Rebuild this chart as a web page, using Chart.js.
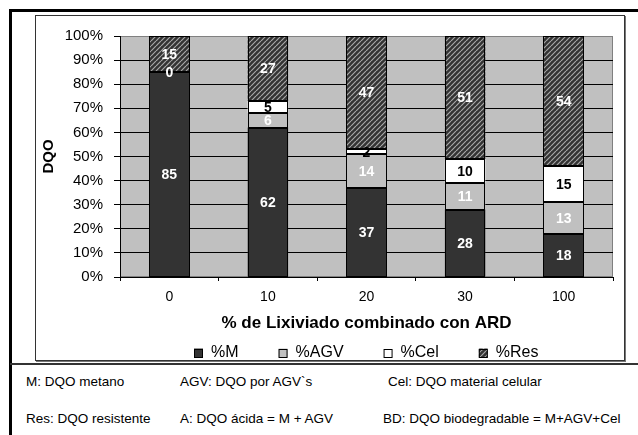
<!DOCTYPE html>
<html>
<head>
<meta charset="utf-8">
<script src="https://cdn.jsdelivr.net/npm/chart.js@4"></script>
<style>
  body { margin: 0; background: #fff; font-family: Arial, "Liberation Sans", sans-serif; }
  #page { position: relative; width: 638px; height: 435px; overflow: hidden; }
  #outer { position: absolute; left: 9px; top: 9px; width: 629px; height: 426px;
           border-top: 3px solid #000; border-left: 3px solid #000; box-sizing: border-box; }
  #chartBox { position: absolute; left: 35px; top: 15px; width: 590px; height: 346px;
              border: 1px solid #333; box-sizing: border-box; box-shadow: 1px 1px 0 #777; }
  #chartBox canvas { position: absolute; left: 0; top: 0; }
  #sep { position: absolute; left: 10px; top: 363px; width: 628px; height: 2px; background: #333; }
  .note { position: absolute; font-size: 13.5px; line-height: 15px; color: #000; white-space: nowrap; }
</style>
</head>
<body>
<div id="page">
  <div id="outer"></div>
  <div id="chartBox"><canvas id="chart" width="588" height="344"></canvas></div>
  <div id="sep"></div>
  <div class="note" style="left:26px; top:374px;">M: DQO metano</div>
  <div class="note" style="left:180px; top:374px;">AGV: DQO por AGV`s</div>
  <div class="note" style="left:388px; top:374px;">Cel: DQO material celular</div>
  <div class="note" style="left:26px; top:411px;">Res: DQO resistente</div>
  <div class="note" style="left:180px; top:411px;">A: DQO ácida = M + AGV</div>
  <div class="note" style="left:383px; top:411px;">BD: DQO biodegradable = M+AGV+Cel</div>
</div>
<script>
// Data
const categories = ["0", "10", "20", "30", "100"];
const mValues = [85, 62, 37, 28, 18];
const agvValues = [0, 6, 14, 11, 13];
const celValues = [null, 5, 2, 10, 15];
const resValues = [15, 27, 47, 51, 54];
const seriesNames = ["%M", "%AGV", "%Cel", "%Res"];

Chart.defaults.font.family = "Arial";
Chart.defaults.color = "#000";

const chartElement = document.getElementById("chart");

// Diagonal hatch used for %Res
function makeHatch() {
    const size = 5;
    const tile = document.createElement("canvas");
    tile.width = size;
    tile.height = size;
    const g = tile.getContext("2d");
    g.fillStyle = "#333";
    g.fillRect(0, 0, size, size);
    g.strokeStyle = "#a8a8a8";
    g.lineWidth = 1.2;
    g.beginPath();
    for (const k of [-size, 0, size]) {
        g.moveTo(k, size);
        g.lineTo(k + size, 0);
    }
    g.stroke();
    return chartElement.getContext("2d").createPattern(tile, "repeat");
}

// Gray plot area behind the grid
const plotBackground = {
    id: "plotBackground",
    beforeDraw(chart) {
        const { ctx, chartArea: a } = chart;
        ctx.save();
        ctx.fillStyle = "#c0c0c0";
        ctx.fillRect(a.left, a.top, a.width, a.height);
        ctx.strokeStyle = "#808080";
        ctx.lineWidth = 1;
        ctx.strokeRect(a.left + 0.5, a.top + 0.5, a.width - 1, a.height - 1);
        ctx.restore();
    },
};

// Crisp black outline around every segment
const barOutlines = {
    id: "barOutlines",
    afterDatasetsDraw(chart) {
        const ctx = chart.ctx;
        ctx.save();
        ctx.strokeStyle = "#000";
        ctx.lineWidth = 1;
        chart.data.datasets.forEach((ds, i) => {
            chart.getDatasetMeta(i).data.forEach((bar, j) => {
                if (!ds.data[j]) return;
                const { x, y, base, width } = bar.getProps(["x", "y", "base", "width"], true);
                const l = Math.round(x - width / 2) + 0.5;
                const r = Math.round(x + width / 2) - 0.5;
                const t = Math.round(y) + 0.5;
                const b = Math.round(base) - 0.5;
                ctx.strokeRect(l, t, r - l, b - t);
            });
        });
        ctx.restore();
    },
};

// Values written in the middle of each segment
const barLabels = {
    id: "barLabels",
    afterDatasetsDraw(chart) {
        const ctx = chart.ctx;
        ctx.save();
        ctx.font = "bold 14px Arial";
        ctx.textAlign = "center";
        ctx.textBaseline = "middle";
        chart.data.datasets.forEach((ds, i) => {
            chart.getDatasetMeta(i).data.forEach((bar, j) => {
                const v = ds.data[j];
                if (v === null) return;
                ctx.fillStyle = ds.labelColor;
                ctx.fillText(String(v), bar.x, (bar.y + bar.base) / 2 + 1);
            });
        });
        ctx.restore();
    },
};

// Legend row under the axis title, centred on the plot area
const bottomLegend = {
    id: "bottomLegend",
    afterDraw(chart) {
        const { ctx, chartArea: a } = chart;
        const box = 9, gap = 8, space = 40;
        ctx.save();
        ctx.font = "16px Arial";
        ctx.textBaseline = "middle";
        const items = chart.data.datasets.map((ds) => ({ ds, w: box + gap + ctx.measureText(ds.label).width }));
        const total = items.reduce((s, it) => s + it.w, 0) + space * (items.length - 1);
        let x = Math.round((a.left + a.right) / 2 - total / 2);
        const y = a.bottom + 76;
        items.forEach(({ ds, w }) => {
            ctx.fillStyle = ds.backgroundColor;
            ctx.fillRect(x, y - box / 2, box, box);
            ctx.strokeStyle = "#000";
            ctx.lineWidth = 1;
            ctx.strokeRect(x + 0.5, Math.round(y - box / 2) + 0.5, box - 1, box - 1);
            ctx.fillStyle = "#000";
            ctx.fillText(ds.label, x + box + gap, y);
            x += w + space;
        });
        ctx.restore();
    },
};

const hatch = makeHatch();

new Chart(chartElement, {
    type: "bar",
    data: {
        labels: categories,
        datasets: [
            { label: seriesNames[0], data: mValues, backgroundColor: "#333333", labelColor: "#fff" },
            { label: seriesNames[1], data: agvValues, backgroundColor: "#c0c0c0", labelColor: "#fff" },
            { label: seriesNames[2], data: celValues, backgroundColor: "#ffffff", labelColor: "#000" },
            { label: seriesNames[3], data: resValues, backgroundColor: hatch, labelColor: "#fff" },
        ],
    },
    options: {
        responsive: false,
        animation: false,
        devicePixelRatio: 1,
        layout: { padding: { left: 0, top: 20, right: 11, bottom: 26 } },
        datasets: {
            bar: {
                borderWidth: 0,
                inflateAmount: 0,
                categoryPercentage: 1,
                barPercentage: 0.41,
            },
        },
        scales: {
            x: {
                stacked: true,
                ticks: { font: { size: 14 }, padding: 8 },
                grid: { offset: true, drawOnChartArea: false, tickLength: 4, tickColor: "#000" },
                border: { color: "#000" },
                title: {
                    display: true,
                    text: "% de Lixiviado combinado con ARD",
                    font: { size: 17, weight: "bold" },
                    padding: { top: 0, bottom: 0 },
                },
                afterFit: (s) => { s.height = 57; },
            },
            y: {
                stacked: true,
                min: 0,
                max: 100,
                ticks: { stepSize: 10, callback: (v) => v + "%", font: { size: 15 }, padding: 11 },
                grid: {
                    color: (c) => (c.tick && c.tick.value === 100 ? "#808080" : "#000"),
                    tickColor: "#000",
                    tickLength: 6,
                },
                border: { color: "#000" },
                title: {
                    display: true,
                    text: "DQO",
                    font: { size: 15, weight: "bold" },
                    padding: { top: 4, bottom: 0 },
                },
                afterFit: (s) => { s.width = 84; },
            },
        },
        plugins: {
            legend: { display: false },
            tooltip: { enabled: false },
        },
    },
    plugins: [plotBackground, barOutlines, barLabels, bottomLegend],
});
</script>
</body>
</html>
